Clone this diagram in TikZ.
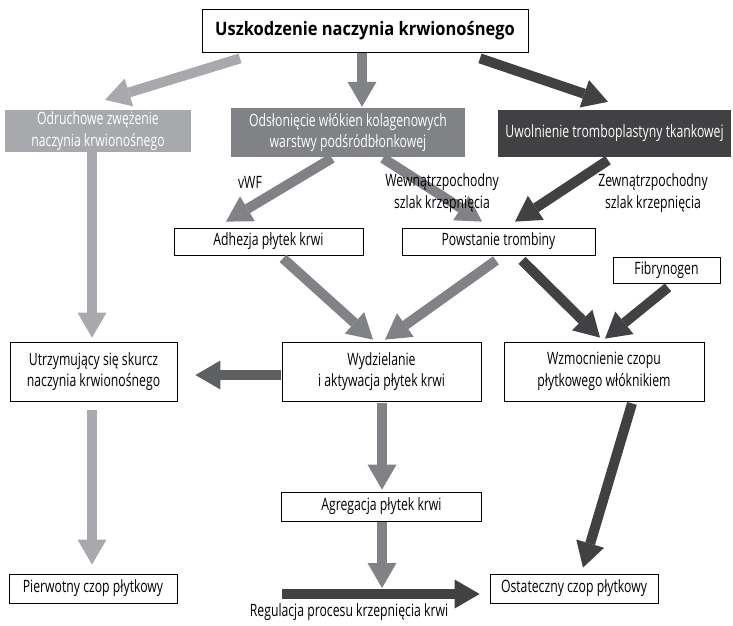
\documentclass[tikz,border=0pt]{standalone}
\usepackage{fontspec}
\setmainfont{Open Sans}[FakeStretch=0.72]
\newfontfamily\headfont{Open Sans}[FakeStretch=0.89]
\usetikzlibrary{arrows.meta}
\definecolor{lightflow}{HTML}{A7A9AC}
\definecolor{midflow}{HTML}{808285}
\definecolor{darkflow}{HTML}{414042}
\definecolor{sideflow}{HTML}{5E5F61}

\begin{document}
\begin{tikzpicture}[x=1pt, y=-1pt,
  every node/.style={font=\fontsize{17}{21.5}\selectfont, align=center, inner sep=0pt},
  stage/.style={draw, line width=0.8pt, fill=white},
  band/.style={text=white},
  flow/.style={line width=10pt, -{Triangle[length=25pt, width=29pt, line width=0pt]}}]
  \useasboundingbox (0,0) rectangle (733,625);

  \node[stage, minimum width=326, minimum height=43, font=\headfont\bfseries\fontsize{18.5}{21}\selectfont] (injury) at (365,30.5) {Uszkodzenie naczynia krwionośnego};
  \node[band, fill=lightflow, minimum width=186, minimum height=42] (reflex) at (98,131) {Odruchowe zwężenie\\naczynia krwionośnego};
  \node[band, fill=midflow, minimum width=234, minimum height=49] (collagen) at (348,132.5) {Odsłonięcie włókien kolagenowych\\warstwy podśródbłonkowej};
  \node[band, fill=darkflow, minimum width=233, minimum height=47] (tissue) at (614.5,133.5) {Uwolnienie tromboplastyny tkankowej};

  \node[stage, minimum width=189, minimum height=27] (adhesion) at (268.5,241.5) {Adhezja płytek krwi};
  \node[stage, minimum width=193, minimum height=27] (thrombin) at (498.5,241.5) {Powstanie trombiny};
  \node[stage, minimum width=107, minimum height=26] (fibrinogen) at (666.5,270) {Fibrynogen};

  \node[stage, minimum width=167, minimum height=59] (spasm) at (93.5,371.5) {Utrzymujący się skurcz\\naczynia krwionośnego};
  \node[stage, minimum width=199, minimum height=59] (release) at (381.5,371.5) {Wydzielanie\\i aktywacja płytek krwi};
  \node[stage, minimum width=200, minimum height=59] (fibrin) at (604,371.5) {Wzmocnienie czopu\\płytkowego włóknikiem};

  \node[stage, minimum width=200, minimum height=29] (aggregation) at (381.5,506.5) {Agregacja płytek krwi};
  \node[stage, minimum width=168, minimum height=29] (primary) at (93,588.5) {Pierwotny czop płytkowy};
  \node[stage, minimum width=168, minimum height=29] (final) at (574,588.5) {Ostateczny czop płytkowy};
  \node (regulation) at (349,612) {Regulacja procesu krzepnięcia krwi};

  \coordinate (regstart) at (282,594);
  \coordinate (regjoin) at (382,588);

  \draw[flow, lightflow] ([shift={(-125,6)}]injury.south) -- ([shift={(7,-10)}]reflex.north);
  \draw[flow, midflow] ([shift={(-3,1)}]injury.south) -- ([shift={(14,-1)}]collagen.north);
  \draw[flow, darkflow] ([shift={(115,6)}]injury.south) -- ([shift={(-6.5,-8)}]tissue.north);

  \draw[flow, lightflow] ([shift={(-6,0)}]reflex.south) -- ([shift={(-1.5,-4)}]spasm.north);
  \draw[flow, midflow] ([shift={(-16,1)}]collagen.south) -- ([shift={(-42.5,-6)}]adhesion.north);
  \draw[flow, midflow] ([shift={(35,1)}]collagen.south) -- ([shift={(-16.5,-6)}]thrombin.north);
  \draw[flow, darkflow] ([shift={(-6.5,3)}]tissue.south) -- ([shift={(16.5,-6)}]thrombin.north);

  \draw[flow, midflow] ([shift={(14.5,3)}]adhesion.south) -- ([shift={(-8.5,-2)}]release.north);
  \draw[flow, midflow] ([shift={(-2.5,5)}]thrombin.south) -- ([shift={(3.5,-2)}]release.north);
  \draw[flow, darkflow] ([shift={(23.5,5)}]thrombin.south) -- ([shift={(-4,-4)}]fibrin.north);
  \draw[flow, darkflow] ([shift={(1.5,4)}]fibrinogen.south) -- ([shift={(1,-3)}]fibrin.north);

  \draw[flow, sideflow] ([shift={(-1,3.5)}]release.west) -- ([shift={(18,3.5)}]spasm.east);
  \draw[flow, lightflow] ([shift={(-1.5,9)}]spasm.south) -- ([shift={(-1,-9)}]primary.north);
  \draw[flow, midflow] ([shift={(0.5,2)}]release.south) -- ([shift={(0.5,-2)}]aggregation.north);
  \draw[flow, midflow] ([shift={(0.5,1)}]aggregation.south) -- (regjoin);
  \draw[flow, darkflow] (regstart) -- ([shift={(-10,5.5)}]final.west);
  \draw[flow, darkflow] ([shift={(28,2)}]fibrin.south) -- ([shift={(9,-6)}]final.north);

  \node (vwf) at (250,182) {vWF};
  \node (intrinsic) at (442,193) {Wewnątrzpochodny\\szlak krzepnięcia};
  \node (extrinsic) at (653,193) {Zewnątrzpochodny\\szlak krzepnięcia};
\end{tikzpicture}
\end{document}
